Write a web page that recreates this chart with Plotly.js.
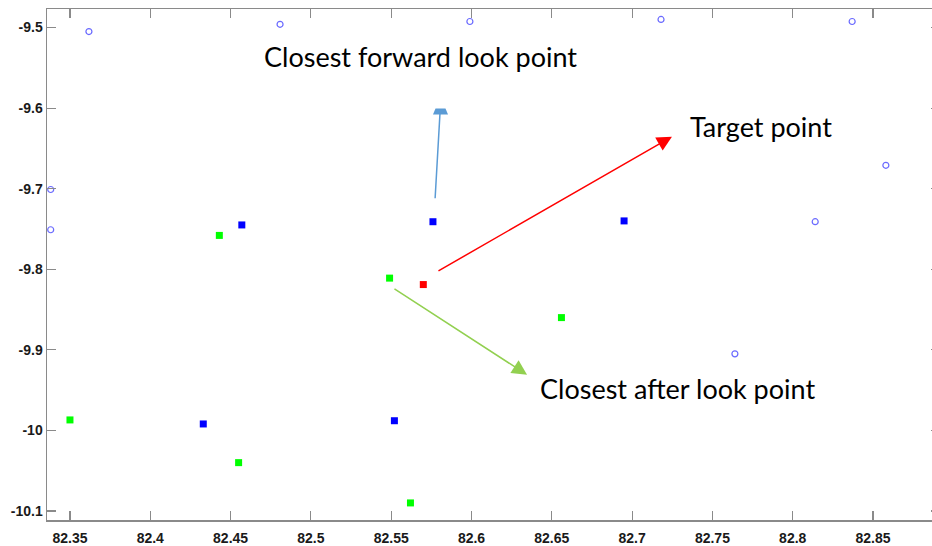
<!DOCTYPE html>
<html>
<head>
<meta charset="utf-8">
<script src="https://cdn.plot.ly/plotly-3.0.1.min.js"></script>
<style>
  html, body { margin: 0; padding: 0; background: #fff; overflow: hidden; }
  #chart { width: 940px; height: 546px; }
</style>
</head>
<body>
<div id="chart"></div>
<script>
// Candidate look points (open circles)
const candX = [82.3618, 82.4808, 82.5990, 82.7180, 82.8370, 82.3380, 82.3380, 82.8580, 82.8140, 82.7640];
const candY = [-9.505, -9.496, -9.4925, -9.490, -9.4925, -9.701, -9.751, -9.671, -9.741, -9.905];

// Forward look points (blue squares)
const fwdX = [82.457, 82.576, 82.695, 82.433, 82.552];
const fwdY = [-9.745, -9.741, -9.740, -9.992, -9.988];

// After look points (green squares)
const aftX = [82.443, 82.549, 82.656, 82.350, 82.455, 82.562];
const aftY = [-9.758, -9.811, -9.860, -9.987, -10.040, -10.090];

// Target point (red square)
const tgtX = [82.570];
const tgtY = [-9.819];

// Axis ticks
const xTickVals = [82.35, 82.4, 82.45, 82.5, 82.55, 82.6, 82.65, 82.7, 82.75, 82.8, 82.85];
const xTickText = ['82.35', '82.4', '82.45', '82.5', '82.55', '82.6', '82.65', '82.7', '82.75', '82.8', '82.85'];
const yTickVals = [-9.5, -9.6, -9.7, -9.8, -9.9, -10, -10.1];
const yTickText = ['-9.5', '-9.6', '-9.7', '-9.8', '-9.9', '-10', '-10.1'];

const traces = [
  { x: candX, y: candY, type: 'scatter', mode: 'markers',
    marker: { symbol: 'circle-open', size: 6, color: '#6a6aff', line: { width: 1.2 } } },
  { x: fwdX, y: fwdY, type: 'scatter', mode: 'markers',
    marker: { symbol: 'square', size: 7, color: '#0000ff' } },
  { x: aftX, y: aftY, type: 'scatter', mode: 'markers',
    marker: { symbol: 'square', size: 7, color: '#00ff00' } },
  { x: tgtX, y: tgtY, type: 'scatter', mode: 'markers',
    marker: { symbol: 'square', size: 7, color: '#ff0000' } }
];

const labelFont = { family: 'Lato, "Open Sans", sans-serif', size: 27, color: '#000' };

const axisCommon = {
  showgrid: false, zeroline: false, showline: true, linecolor: '#8a8a8a', linewidth: 1.5,
  mirror: 'ticks', ticks: 'inside', ticklen: 9, tickwidth: 1.2, tickcolor: '#8a8a8a',
  tickfont: { family: '"Liberation Sans", Arial, sans-serif', size: 14, color: '#1a1a1a', weight: 'bold' },
  tickmode: 'array', fixedrange: true
};

const layout = {
  width: 940, height: 546,
  margin: { l: 47, r: 0, t: 9, b: 26 },
  paper_bgcolor: '#fff', plot_bgcolor: '#fff',
  showlegend: false,
  xaxis: Object.assign({}, axisCommon, {
    range: [82.3357, 82.8917], tickvals: xTickVals, ticktext: xTickText, ticklabelstandoff: 5
  }),
  yaxis: Object.assign({}, axisCommon, {
    range: [-10.1112, -9.4770], tickvals: yTickVals, ticktext: yTickText
  }),
  annotations: [
    { x: 82.5682, y: -9.536, xref: 'x', yref: 'y', text: 'Closest forward look point',
      showarrow: false, font: labelFont },
    { x: 82.780, y: -9.623, xref: 'x', yref: 'y', text: 'Target point',
      showarrow: false, font: labelFont },
    { x: 82.7283, y: -9.9485, xref: 'x', yref: 'y', text: 'Closest after look point',
      showarrow: false, font: labelFont },
    // arrows from the points toward their labels
    { x: 82.5804, y: -9.6056, ax: 82.5773, ay: -9.7137, xref: 'x', yref: 'y', axref: 'x', ayref: 'y',
      text: '', showarrow: true, arrowhead: 0, arrowwidth: 1.5, arrowcolor: '#5b9bd5' },
    { x: 82.7248, y: -9.6354, ax: 82.5785, ay: -9.8031, xref: 'x', yref: 'y', axref: 'x', ayref: 'y',
      text: '', showarrow: true, arrowhead: 2, arrowsize: 2, arrowwidth: 1.5, arrowcolor: '#ff0000' },
    { x: 82.6346, y: -9.931, ax: 82.5511, ay: -9.823, xref: 'x', yref: 'y', axref: 'x', ayref: 'y',
      text: '', showarrow: true, arrowhead: 2, arrowsize: 2, arrowwidth: 1.5, arrowcolor: '#92d050' }
  ],
  shapes: [
    // flat arrow cap on the blue pointer
    { type: 'path', xref: 'x', yref: 'y', xsizemode: 'pixel', ysizemode: 'pixel',
      xanchor: 82.5807, yanchor: -9.6043,
      path: 'M-7.5,-3 L-5,3 L5,3 L7.5,-3 Z',
      fillcolor: '#5b9bd5', line: { width: 0 } }
  ]
};

Plotly.newPlot('chart', traces, layout, { displayModeBar: false, staticPlot: true });
</script>
</body>
</html>
